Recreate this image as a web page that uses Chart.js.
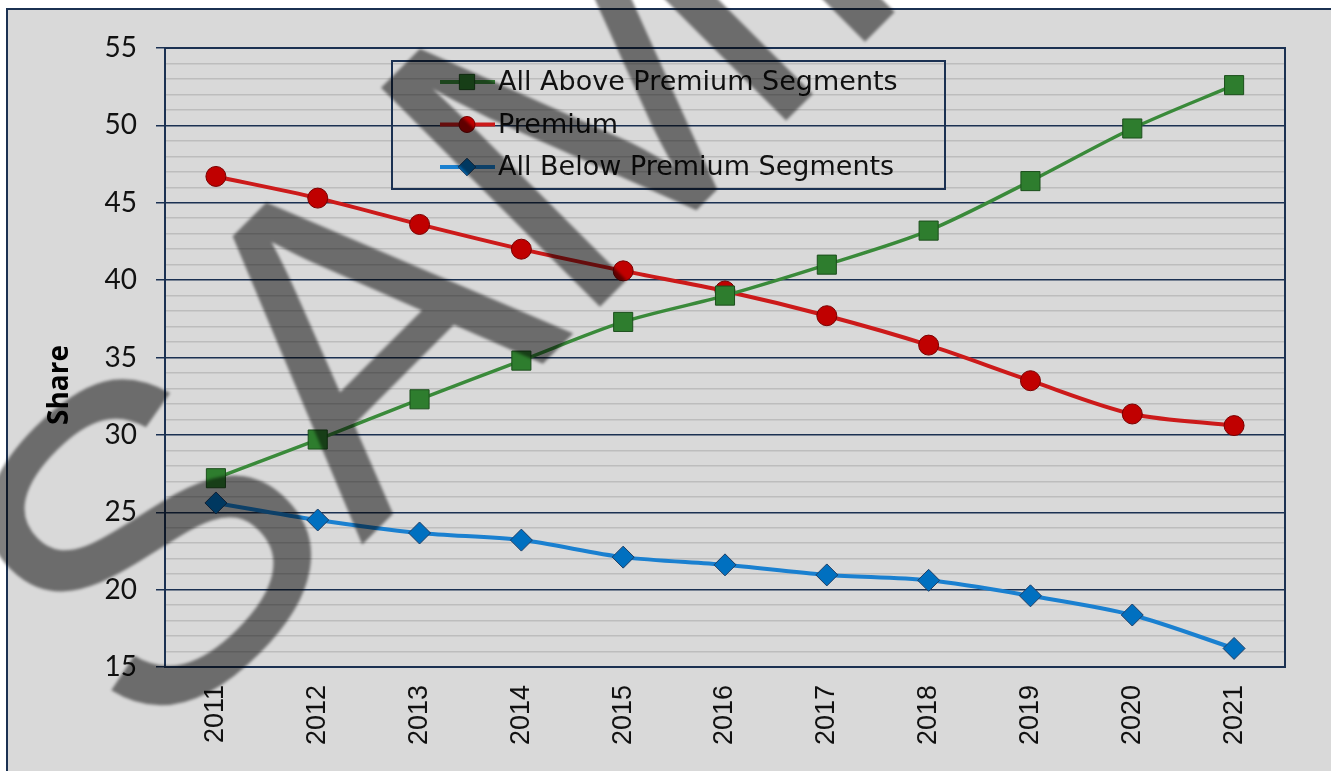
<!DOCTYPE html>
<html>
<head>
<meta charset="utf-8">
<script src="https://cdn.jsdelivr.net/npm/chart.js@4.4.0/dist/chart.umd.min.js"></script>
<style>
  body { margin: 0; background: #fff; }
  canvas { display: block; }
</style>
</head>
<body>
<canvas id="chart" width="1331" height="771"></canvas>
<script>
const years = ['2011', '2012', '2013', '2014', '2015', '2016', '2017', '2018', '2019', '2020', '2021'];
const abovePremium = [27.2, 29.7, 32.3, 34.8, 37.3, 39.0, 41.0, 43.2, 46.4, 49.8, 52.6];
const premium = [46.7, 45.3, 43.6, 42.0, 40.6, 39.3, 37.7, 35.8, 33.5, 31.35, 30.6];
const belowPremium = [25.6, 24.5, 23.66, 23.2, 22.1, 21.6, 20.95, 20.6, 19.6, 18.36, 16.2];

const navy = '#1b3152';
const labelFont = 'DejaVu Sans';

const frame = {
  id: 'frame',
  beforeDraw(chart) {
    const ctx = chart.ctx;
    ctx.save();
    ctx.fillStyle = '#fff';
    ctx.fillRect(0, 0, chart.width, chart.height);
    ctx.fillStyle = '#d9d9d9';
    ctx.fillRect(7, 9, chart.width, chart.height);
    ctx.strokeStyle = navy;
    ctx.lineWidth = 2;
    ctx.strokeRect(7, 9, chart.width + 10, chart.height + 10);
    // axis title
    ctx.translate(60, 385);
    ctx.rotate(-Math.PI / 2);
    ctx.font = 'bold 28px "Open Sans"';
    ctx.fillStyle = '#000';
    ctx.textAlign = 'center';
    ctx.textBaseline = 'middle';
    ctx.fillText('Share', 0, 0);
    ctx.restore();
  },
  beforeDatasetsDraw(chart) {
    const a = chart.chartArea, ctx = chart.ctx;
    ctx.save();
    ctx.strokeStyle = navy;
    ctx.lineWidth = 2;
    ctx.strokeRect(a.left, a.top, a.right - a.left, a.bottom - a.top);
    ctx.restore();
  },
  afterDatasetsDraw(chart) {
    // legend box inside the plot
    const ctx = chart.ctx;
    ctx.save();
    ctx.strokeStyle = navy;
    ctx.lineWidth = 2;
    ctx.strokeRect(392, 61, 553, 128);
    ctx.font = '27px "' + labelFont + '"';
    ctx.textBaseline = 'middle';
    chart.data.datasets.forEach((ds, i) => {
      const y = 82 + i * 42.5;
      ctx.strokeStyle = ds.borderColor;
      ctx.lineWidth = 4;
      ctx.beginPath();
      ctx.moveTo(440, y);
      ctx.lineTo(495, y);
      ctx.stroke();
      ctx.fillStyle = ds.pointBackgroundColor;
      ctx.strokeStyle = ds.pointBorderColor;
      ctx.lineWidth = 1;
      Chart.helpers.drawPoint(ctx, {
        pointStyle: ds.pointStyle, radius: ds.pointRadius * 0.8, rotation: 0, borderWidth: 1
      }, 467, y);
      ctx.fillStyle = '#111';
      ctx.fillText(ds.label, 498, y + 1);
    });
    ctx.restore();
  },
  afterDraw(chart) {
    // SAMPLE watermark
    const ctx = chart.ctx;
    ctx.save();
    ctx.translate(681, -2);
    ctx.rotate(-45 * Math.PI / 180);
    ctx.filter = 'blur(1.5px)';
    ctx.font = '450px "Liberation Sans"';
    ctx.textAlign = 'center';
    ctx.textBaseline = 'alphabetic';
    ctx.fillStyle = 'rgba(0,0,0,0.5)';
    ctx.fillText('SAMPLE', 0, 161);
    ctx.restore();
  }
};

const isMajor = c => c.tick && c.tick.value % 5 === 0;

new Chart(document.getElementById('chart').getContext('2d'), {
  type: 'line',
  data: {
    labels: years,
    datasets: [
      {
        label: 'All Above Premium Segments',
        data: abovePremium,
        borderColor: '#3a8a3a',
        borderWidth: 3.5,
        pointStyle: 'rect',
        pointRadius: 13.5,
        pointBackgroundColor: '#2e7d2e',
        pointBorderColor: '#1c4f1c',
        pointBorderWidth: 1,
        tension: 0.3
      },
      {
        label: 'Premium',
        data: premium,
        borderColor: '#cc1a1a',
        borderWidth: 4,
        pointStyle: 'circle',
        pointRadius: 10,
        pointBackgroundColor: '#c00000',
        pointBorderColor: '#7a0000',
        pointBorderWidth: 1,
        tension: 0.3
      },
      {
        label: 'All Below Premium Segments',
        data: belowPremium,
        borderColor: '#1a80d0',
        borderWidth: 4,
        pointStyle: 'rectRot',
        pointRadius: 11,
        pointBackgroundColor: '#0070c0',
        pointBorderColor: '#1f3f66',
        pointBorderWidth: 1,
        tension: 0.3
      }
    ]
  },
  options: {
    responsive: false,
    animation: false,
    layout: { padding: { left: 7, top: 48, right: 46, bottom: 0 } },
    plugins: {
      legend: { display: false },
      tooltip: { enabled: false }
    },
    scales: {
      x: {
        offset: true,
        grid: { display: false, drawTicks: false },
        border: { color: navy, width: 2 },
        ticks: {
          minRotation: 90,
          maxRotation: 90,
          padding: 18,
          color: '#111',
          font: { family: 'Liberation Sans', size: 27 }
        },
        afterFit(s) { s.height = 104; }
      },
      y: {
        min: 15,
        max: 55,
        border: { color: navy, width: 2 },
        grid: {
          color: c => isMajor(c) ? navy : '#bdbdbd',
          lineWidth: 1.5,
          tickLength: 9,
          tickColor: c => isMajor(c) ? navy : 'rgba(0,0,0,0)'
        },
        ticks: {
          stepSize: 1,
          autoSkip: false,
          padding: 19,
          color: '#111',
          font: { family: 'Lato', size: 28 },
          callback: v => v % 5 === 0 ? v : ''
        },
        afterFit(s) { s.width = 158; }
      }
    }
  },
  plugins: [frame]
});
</script>
</body>
</html>
